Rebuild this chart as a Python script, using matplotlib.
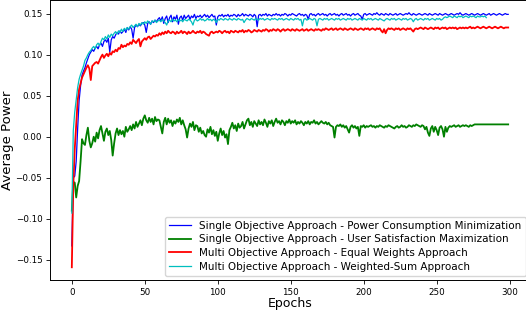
import numpy as np
import matplotlib
matplotlib.use("Agg")
import matplotlib.pyplot as plt

# values, in thousandths
power_min = [
    -133, -50, -48, -30, 10, 44, 62, 75, 80, 84,
    90, 95, 100, 103, 106, 104, 108, 110, 107, 112,
    114, 110, 116, 118, 115, 120, 103, 118, 122, 120,
    124, 127, 125, 129, 126, 128, 131, 127, 133, 130,
    134, 131, 120, 133, 136, 134, 137, 135, 138, 139,
    136, 127, 138, 140, 137, 141, 139, 142, 140, 143,
    145, 141, 146, 138, 144, 147, 139, 145, 148, 140,
    146, 143, 148, 137, 145, 147, 142, 148, 144, 146,
    148, 143, 147, 145, 149, 144, 147, 146, 148, 145,
    147, 149, 146, 148, 145, 147, 149, 146, 147, 136,
    146, 148, 147, 149, 146, 148, 147, 149, 146, 148,
    147, 149, 148, 146, 149, 147, 148, 150, 147, 149,
    148, 147, 149, 148, 146, 149, 147, 134, 148, 149,
    147, 149, 148, 150, 147, 149, 148, 147, 149, 148,
    150, 148, 149, 147, 149, 148, 150, 149, 147, 149,
    148, 150, 149, 148, 147, 149, 150, 148, 149, 147,
    149, 148, 143, 149, 150, 148, 149, 147, 149, 150,
    148, 149, 150, 148, 149, 147, 149, 150, 148, 149,
    150, 148, 149, 147, 149, 150, 148, 149, 150, 148,
    149, 147, 149, 150, 148, 149, 150, 148, 147, 143,
    149, 150, 148, 149, 150, 149, 148, 150, 149, 151,
    149, 148, 150, 149, 148, 150, 149, 148, 150, 149,
    148, 149, 150, 148, 149, 150, 149, 148, 149, 150,
    149, 151, 149, 148, 150, 149, 148, 149, 150, 149,
    148, 149, 150, 149, 148, 150, 149, 148, 149, 150,
    149, 148, 150, 149, 148, 149, 150, 149, 148, 149,
    150, 149, 148, 149, 150, 149, 151, 149, 148, 149,
    150, 149, 148, 149, 150, 149, 148, 149, 150, 149,
    148, 149, 150, 149, 148, 149, 150, 148, 149, 150,
    149, 148, 149, 150, 149, 148, 149, 150, 149, 149,
]

user_sat = [
    -90, -55, -56, -74, -60, -54, -30, -3, -8, -10,
    2, 11, -5, -13, -8, 0, -6, 5, -2, 8,
    13, 4, -5, 6, 10, 2, 7, -4, -23, -8,
    4, 10, 2, 8, 3, 7, 0, 12, 6, 9,
    13, 8, 15, 10, 18, 12, 16, 20, 14, 22,
    26, 20, 17, 23, 18, 22, 15, 24, 19, 21,
    20, 12, 4, 18, 23, 15, 22, 17, 20, 13,
    19, 16, 21, 18, 23, 15, 20, 14, 9, -1,
    10, 16, 12, 18, 8, 14, 13, 6, 11, 4,
    7, 2, 0, 9, 5, 12, 3, 8, 1, 6,
    -5, 4, 10, 2, 7, -1, 3, -9, 8, 12,
    17, 10, 14, 7, 16, 11, 13, 18, 10, 15,
    20, 22, 14, 18, 12, 19, 16, 13, 20, 15,
    18, 14, 21, 17, 12, 19, 16, 20, 13, 18,
    22, 17, 19, 15, 20, 18, 14, 19, 17, 21,
    16, 19, 17, 20, 15, 18, 16, 19, 17, 14,
    18, 16, 19, 15, 18, 17, 20, 16, 18, 15,
    17, 19, 17, 16, 18, 15, 17, 14, 13, 12,
    -1, 12, 14, 13, 15, 12, 14, 11, 13, 9,
    5, 12, 14, 11, 13, 10, 12, 1, 13, 12,
    14, 11, 13, 12, 13, 14, 12, 13, 11, 13,
    12, 14, 13, 12, 11, 13, 12, 14, 13, 12,
    11, 10, 12, 13, 11, 12, 14, 12, 13, 11,
    12, 14, 13, 12, 14, 13, 15, 14, 13, 12,
    14, 13, 9, 12, 5, 1, 10, 13, 6, 12,
    8, 2, 11, 13, 9, 0, 12, 6, 11, 13,
    12, 13, 14, 12, 13, 14, 12, 13, 14, 13,
    14, 13, 12, 14, 13, 14, 15, 15, 15, 15,
    15, 15, 15, 15, 15, 15, 15, 15, 15, 15,
    15, 15, 15, 15, 15, 15, 15, 15, 15, 15,
]

equal_w = [
    -159, -60, -15, 15, 44, 58, 65, 72, 76, 80,
    84, 87, 83, 69, 86, 88, 90, 91, 89, 93,
    97, 100, 96, 99, 101, 98, 102, 100, 104, 103,
    106, 104, 108, 107, 112, 109, 111, 110, 113, 112,
    115, 113, 118, 116, 114, 117, 119, 110, 116, 118,
    120, 118, 121, 122, 119, 121, 123, 122, 124, 123,
    126, 124, 127, 125, 128, 126, 129, 127, 126, 128,
    127, 125, 128, 126, 127, 129, 126, 128, 127, 125,
    128, 126, 127, 129, 127, 126, 128, 127, 129, 126,
    128, 127, 125, 124, 123, 127, 128, 126, 127, 128,
    127, 129, 128, 126, 128, 129, 127, 128, 126, 129,
    128, 127, 129, 128, 127, 129, 128, 130, 127, 129,
    128, 130, 129, 127, 128, 130, 129, 128, 130, 129,
    128, 130, 129, 131, 130, 128, 130, 129, 131, 130,
    129, 131, 130, 128, 130, 131, 129, 130, 131, 130,
    129, 131, 130, 129, 131, 130, 129, 130, 131, 129,
    130, 131, 129, 130, 131, 130, 129, 131, 130, 131,
    130, 129, 131, 130, 132, 131, 130, 131, 132, 130,
    131, 132, 130, 131, 132, 131, 130, 132, 131, 130,
    131, 132, 131, 130, 132, 131, 130, 131, 132, 131,
    130, 132, 131, 132, 130, 131, 132, 131, 130, 132,
    131, 132, 129, 127, 131, 126, 130, 132, 131, 132,
    131, 130, 132, 131, 132, 130, 131, 132, 131, 130,
    132, 131, 132, 130, 128, 131, 132, 131, 132, 133,
    132, 131, 133, 132, 131, 132, 133, 132, 131, 133,
    132, 133, 131, 132, 133, 132, 133, 131, 132, 133,
    132, 133, 132, 133, 131, 132, 133, 132, 133, 132,
    133, 132, 133, 134, 132, 133, 132, 133, 134, 133,
    132, 133, 134, 133, 132, 133, 134, 133, 132, 133,
    134, 133, 132, 133, 134, 133, 132, 133, 133, 133,
]

weighted_sum = [
    -93, 7, 30, 45, 60, 70, 76, 81, 86, 93,
    96, 100, 103, 105, 108, 110, 107, 112, 114, 111,
    116, 120, 118, 122, 119, 124, 121, 125, 123, 126,
    128, 125, 129, 127, 131, 128, 132, 130, 133, 131,
    134, 136, 133, 135, 137, 134, 138, 136, 139, 137,
    140, 138, 141, 139, 137, 141, 140, 142, 139, 141,
    142, 140, 143, 141, 139, 136, 141, 142, 140, 143,
    141, 142, 140, 143, 141, 142, 140, 143, 142, 141,
    143, 142, 140, 136, 142, 143, 141, 142, 144, 142,
    143, 141, 142, 144, 142, 143, 141, 143, 142, 139,
    143, 142, 144, 143, 142, 144, 143, 142, 144, 143,
    142, 144, 143, 142, 144, 143, 142, 143, 139, 142,
    144, 143, 142, 144, 143, 142, 144, 143, 142, 144,
    143, 144, 142, 143, 144, 143, 142, 144, 143, 144,
    143, 142, 144, 143, 144, 142, 143, 144, 143, 142,
    144, 143, 142, 144, 143, 144, 142, 143, 135, 143,
    144, 142, 143, 144, 143, 142, 144, 143, 135, 143,
    144, 143, 142, 144, 143, 144, 142, 143, 144, 143,
    142, 144, 143, 144, 142, 143, 144, 143, 142, 144,
    143, 144, 142, 143, 144, 143, 142, 144, 143, 142,
    144, 143, 142, 144, 143, 144, 142, 143, 144, 143,
    142, 144, 143, 142, 141, 143, 144, 143, 142, 144,
    143, 144, 142, 143, 144, 143, 142, 144, 143, 144,
    142, 143, 144, 143, 140, 143, 144, 142, 143, 144,
    143, 142, 144, 143, 144, 142, 143, 144, 143, 142,
    144, 143, 144, 142, 143, 145, 146, 145, 146, 147,
    146, 145, 147, 146, 145, 147, 146, 147, 145, 146,
    147, 146, 145, 147, 146, 147, 146, 145, 147, 146,
    146, 147, 146, 147, 145,
]

labels = [
    "Single Objective Approach - Power Consumption Minimization",
    "Single Objective Approach - User Satisfaction Maximization",
    "Multi Objective Approach - Equal Weights Approach",
    "Multi Objective Approach - Weighted-Sum Approach",
]

series = [power_min, user_sat, equal_w, weighted_sum]
colors = ["b", "g", "r", "c"]
widths = [0.9, 1.3, 1.3, 0.9]

fig = plt.figure(figsize=(5.26, 3.1), dpi=100)
ax = fig.add_axes([50 / 526, 30 / 310, 480 / 526, 280 / 310])

for vals, lab, col, lw in zip(series, labels, colors, widths):
    y = np.array(vals) / 1000.0
    ax.plot(np.arange(len(y)), y, color=col, lw=lw, label=lab)

ax.set_xlabel("Epochs", fontsize=9, labelpad=0)
ax.set_ylabel("Average Power", fontsize=9.5, labelpad=1)
ax.tick_params(labelsize=6.3, length=3, width=0.6, pad=2.5)
for s in ax.spines.values():
    s.set_linewidth(0.7)
ax.legend(loc="lower right", fontsize=7.5, handlelength=2.1,
          labelspacing=0.35, borderaxespad=0.4)

fig.savefig("out.png", dpi=100)
